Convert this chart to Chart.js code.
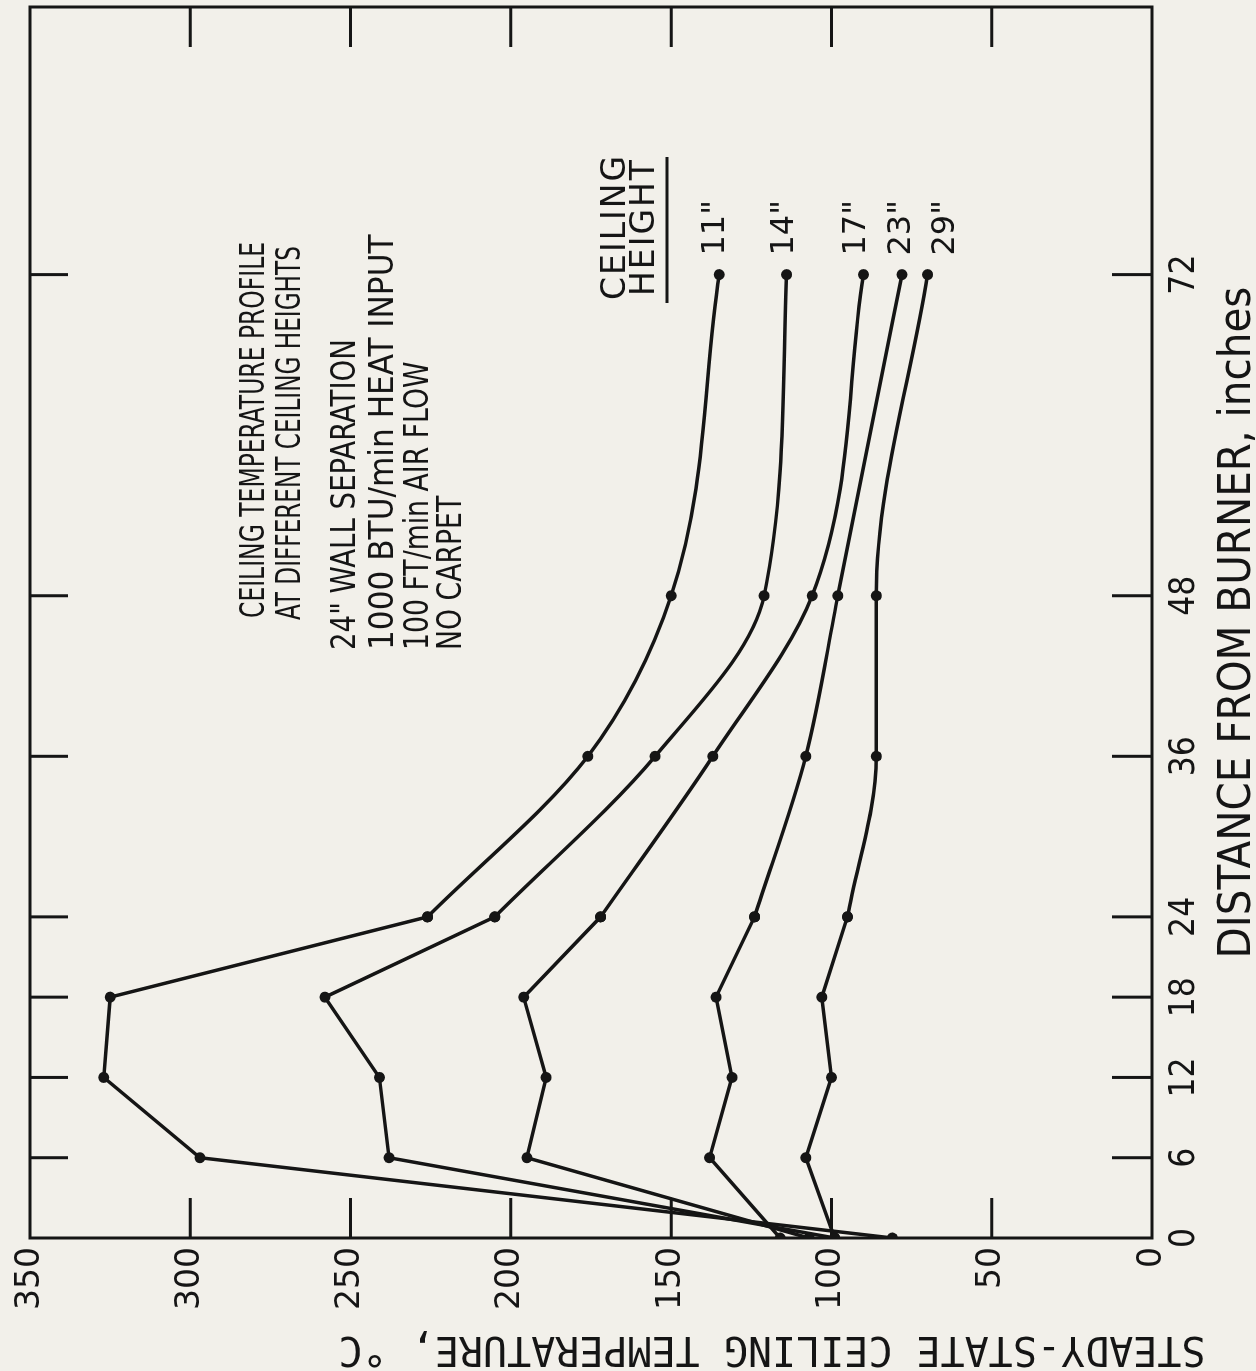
<!DOCTYPE html>
<html>
<head>
<meta charset="utf-8">
<script src="https://cdn.jsdelivr.net/npm/chart.js@4.4.1/dist/chart.umd.min.js"></script>
<style>
  html, body { margin: 0; padding: 0; background: #f2f0ea; overflow: hidden; }
  #page { width: 1256px; height: 1371px; position: relative; }
  /* the figure is drawn landscape and turned a quarter turn, like the scanned page */
  #wrap { position: absolute; left: 0; top: 0; width: 1371px; height: 1256px;
          transform-origin: 0 0; transform: translate(0, 1371px) rotate(-90deg); }
  canvas { display: block; }
</style>
</head>
<body>
<div id="page"><div id="wrap"><canvas id="profileChart" width="1371" height="1256"></canvas></div></div>
<script>
const distances = [0, 6, 12, 18, 24, 36, 48, 72];
const h11 = [81, 297, 327, 325, 226, 176, 150, 135];
const h14 = [99, 238, 241, 258, 205, 155, 121, 114];
const h17 = [107, 195, 189, 196, 172, 137, 106, 90];
const h23 = [116, 138, 131, 136, 124, 108, 98, 78];
const h29 = [99, 108, 100, 103, 95, 86, 86, 70];
const heightLabels = ['11"', '14"', '17"', '23"', '29"'];
const distanceTicks = [0, 6, 12, 18, 24, 36, 48, 72];
const tempTicks = [0, 50, 100, 150, 200, 250, 300, 350];
const notes = ['CEILING TEMPERATURE PROFILE', 'AT DIFFERENT CEILING HEIGHTS',
               '24" WALL SEPARATION', '1000 BTU/min HEAT INPUT', '100 FT/min AIR FLOW', 'NO CARPET'];

const ink = '#151515';
const paper = '#f2f0ea';
const narrow = '"Liberation Sans Narrow", "DejaVu Sans Condensed", sans-serif';
const round = '"DejaVu Sans", sans-serif';
const mono = '"DejaVu Sans Mono", monospace';

const series = [h11, h14, h17, h23, h29];
const datasets = [];
series.forEach(function (vals) {
    const pts = distances.map((d, i) => ({ x: d, y: vals[i] }));
    const common = {
        borderColor: ink,
        borderWidth: 3.5,
        pointRadius: 5.5,
        pointBackgroundColor: ink,
        pointBorderWidth: 0,
        fill: false
    };
    // ruled part near the burner, french-curve part further out
    datasets.push(Object.assign({ data: pts.slice(0, 5), tension: 0 }, common));
    datasets.push(Object.assign({ data: pts.slice(4), cubicInterpolationMode: 'monotone' }, common));
});

const paperBg = {
    id: 'paperBg',
    beforeDraw(chart) {
        const ctx = chart.ctx;
        ctx.save();
        ctx.fillStyle = paper;
        ctx.fillRect(0, 0, chart.width, chart.height);
        ctx.restore();
    }
};

const frame = {
    id: 'frame',
    beforeDatasetsDraw(chart) {
        const ctx = chart.ctx, a = chart.chartArea;
        const xs = chart.scales.x, ys = chart.scales.y;
        ctx.save();
        ctx.strokeStyle = ink;
        ctx.lineWidth = 3;
        ctx.strokeRect(a.left, a.top, a.right - a.left, a.bottom - a.top);
        ctx.beginPath();
        distanceTicks.forEach(v => {
            if (v === 0) return;
            const p = xs.getPixelForValue(v);
            ctx.moveTo(p, a.bottom); ctx.lineTo(p, a.bottom - 40);
            ctx.moveTo(p, a.top); ctx.lineTo(p, a.top + 38);
        });
        tempTicks.forEach(v => {
            if (v === 0 || v === 350) return;
            const p = ys.getPixelForValue(v);
            ctx.moveTo(a.left, p); ctx.lineTo(a.left + 40, p);
            ctx.moveTo(a.right, p); ctx.lineTo(a.right - 40, p);
        });
        ctx.stroke();
        ctx.restore();
    },
    afterDraw(chart) {
        const ctx = chart.ctx;
        const xs = chart.scales.x, ys = chart.scales.y;
        ctx.save();
        ctx.fillStyle = ink;
        ctx.textBaseline = 'middle';

        // y axis title, placed as on the original sheet
        ctx.save();
        ctx.translate(24, 772);
        ctx.rotate(-Math.PI / 2);
        ctx.textAlign = 'center';
        ctx.font = '40px ' + mono;
        ctx.fillText('STEADY-STATE CEILING TEMPERATURE, °C', 0, 0);
        ctx.restore();

        // note block, lettering squeezed like the original
        ctx.textAlign = 'left';
        ctx.font = '33px ' + narrow;
        const noteX = [753, 751, 721, 721, 721, 721];
        const noteY = [255, 291, 346, 384, 419, 452];
        const squeeze = [0.79, 0.78, 0.93, 1.05, 0.9, 0.9];
        notes.forEach((t, i) => {
            ctx.save();
            ctx.translate(noteX[i], noteY[i]);
            ctx.scale(squeeze[i], 1);
            ctx.fillText(t, 0, 0);
            ctx.restore();
        });

        // key
        ctx.textAlign = 'center';
        ctx.font = '33px ' + round;
        ctx.letterSpacing = '2px';
        ctx.fillText('CEILING', 1144, 616);
        ctx.fillText('HEIGHT', 1144, 645);
        ctx.letterSpacing = '0px';
        ctx.lineWidth = 3;
        ctx.strokeStyle = ink;
        ctx.beginPath();
        ctx.moveTo(1068, 667); ctx.lineTo(1214, 667);
        ctx.stroke();

        const labelTemp = [136, 114.5, 92, 78, 64.5];
        ctx.font = '32px ' + round;
        heightLabels.forEach((t, i) => {
            ctx.fillText(t, xs.getPixelForValue(75.5), ys.getPixelForValue(labelTemp[i]));
        });
        ctx.restore();
    }
};

new Chart(document.getElementById('profileChart').getContext('2d'), {
    type: 'line',
    data: { datasets: datasets },
    options: {
        responsive: false,
        animation: false,
        layout: { padding: { top: 30, right: 7, left: 0, bottom: 0 } },
        plugins: {
            legend: { display: false },
            tooltip: { enabled: false }
        },
        scales: {
            x: {
                type: 'linear',
                min: 0,
                max: 92,
                afterBuildTicks: s => { s.ticks = distanceTicks.map(v => ({ value: v })); },
                afterFit: s => { s.height = 104; },
                grid: { display: false, drawTicks: false },
                border: { display: false },
                ticks: { color: ink, font: { family: narrow, size: 35 }, padding: 12, maxRotation: 0, autoSkip: false },
                title: {
                    display: true,
                    text: 'DISTANCE FROM BURNER, inches',
                    color: ink,
                    font: { family: narrow, size: 45, lineHeight: 0.8 },
                    padding: 0
                }
            },
            y: {
                min: 0,
                max: 350,
                afterBuildTicks: s => { s.ticks = tempTicks.map(v => ({ value: v })); },
                afterFit: s => { s.width = 133; },
                grid: { display: false, drawTicks: false },
                border: { display: false },
                ticks: { color: ink, font: { family: round, size: 33 }, padding: 9 }
            }
        }
    },
    plugins: [paperBg, frame]
});
</script>
</body>
</html>
